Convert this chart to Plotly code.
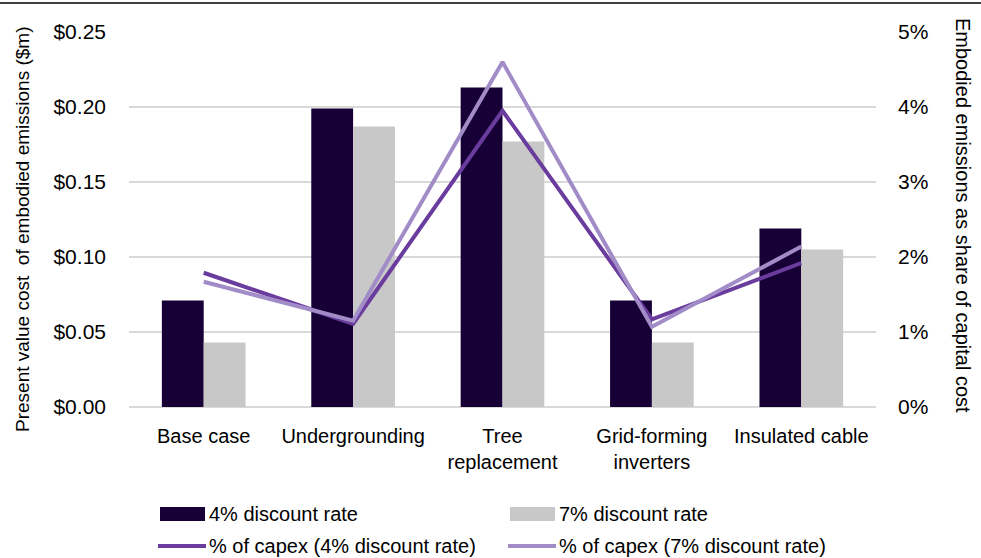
import plotly.graph_objects as go

# Categories and values
categories = ["Base case", "Undergrounding", "Tree<br>replacement",
              "Grid-forming<br>inverters", "Insulated cable"]
pv_cost_4pct = [0.071, 0.199, 0.213, 0.071, 0.119]   # $m
pv_cost_7pct = [0.043, 0.187, 0.177, 0.043, 0.105]   # $m
share_capex_4pct = [1.79, 1.11, 3.95, 1.17, 1.92]    # % of capital cost
share_capex_7pct = [1.67, 1.15, 4.60, 1.07, 2.14]    # % of capital cost

left_ticks = [0, 0.05, 0.10, 0.15, 0.20, 0.25]
left_ticktext = ["$0.00", "$0.05", "$0.10", "$0.15", "$0.20", "$0.25"]
right_ticks = [0, 1, 2, 3, 4, 5]
right_ticktext = ["0%", "1%", "2%", "3%", "4%", "5%"]

legend_names = ["4% discount rate", "7% discount rate",
                "% of capex (4% discount rate)", "% of capex (7% discount rate)"]

C_BAR4 = "#160036"
C_BAR7 = "#C8C8C8"
C_LINE4 = "#6A3C9E"
C_LINE7 = "#A18CC8"
GRID = "#D9D9D9"
FONT = "Liberation Sans"
TXT = "#000000"

W, H = 981, 558
L, R, T, B = 129, 105, 32, 151
pw, ph = W - L - R, H - T - B


def px(x):
    return (x - L) / pw


def py(y):
    return (H - B - y) / ph


fig = go.Figure()
fig.add_trace(go.Bar(x=categories, y=pv_cost_4pct, name=legend_names[0],
                     marker=dict(color=C_BAR4, line=dict(width=0))))
fig.add_trace(go.Bar(x=categories, y=pv_cost_7pct, name=legend_names[1],
                     marker=dict(color=C_BAR7, line=dict(width=0))))
fig.add_trace(go.Scatter(x=categories, y=share_capex_4pct, name=legend_names[2],
                         mode="lines", yaxis="y2",
                         line=dict(color=C_LINE4, width=4)))
fig.add_trace(go.Scatter(x=categories, y=share_capex_7pct, name=legend_names[3],
                         mode="lines", yaxis="y2",
                         line=dict(color=C_LINE7, width=4)))

# Hand-built legend: two columns, two rows
shapes = []
annotations = []
legend_rows = [514, 546]
legend_cols = [158, 508]
kinds = ["bar", "bar", "line", "line"]
colors = [C_BAR4, C_BAR7, C_LINE4, C_LINE7]
for i, name in enumerate(legend_names):
    x0 = legend_cols[i % 2]
    yc = legend_rows[i // 2]
    if kinds[i] == "bar":
        shapes.append(dict(type="rect", xref="paper", yref="paper",
                           x0=px(x0 + 2), x1=px(x0 + 47),
                           y0=py(yc + 7), y1=py(yc - 7),
                           fillcolor=colors[i], line=dict(width=0)))
    else:
        shapes.append(dict(type="line", xref="paper", yref="paper",
                           x0=px(x0), x1=px(x0 + 48), y0=py(yc), y1=py(yc),
                           line=dict(color=colors[i], width=4)))
    annotations.append(dict(text=name, xref="paper", yref="paper",
                            x=px(x0 + 49), y=py(yc), xanchor="left",
                            yanchor="middle", showarrow=False,
                            font=dict(family=FONT, size=20, color=TXT)))

# Thin rule across the top
shapes.append(dict(type="line", xref="paper", yref="paper",
                   x0=px(0), x1=px(W), y0=py(3), y1=py(3),
                   line=dict(color="#000000", width=1.5)))

# Axis titles
annotations.append(dict(text="Present value cost  of embodied emissions ($m)",
                        xref="paper", yref="paper", x=px(22), y=py(229),
                        textangle=-90, showarrow=False,
                        xanchor="center", yanchor="middle",
                        font=dict(family=FONT, size=19, color=TXT)))
annotations.append(dict(text="Embodied emissions as share of capital cost",
                        xref="paper", yref="paper", x=px(963), y=py(216),
                        textangle=90, showarrow=False,
                        xanchor="center", yanchor="middle",
                        font=dict(family=FONT, size=20, color=TXT)))

fig.update_layout(
    width=W, height=H,
    margin=dict(l=L, r=R, t=T, b=B, autoexpand=False),
    paper_bgcolor="white", plot_bgcolor="white",
    barmode="group", bargap=0.44, bargroupgap=0,
    showlegend=False,
    font=dict(family=FONT, size=20, color=TXT),
    xaxis=dict(showgrid=False, showline=False, ticks="",
               tickfont=dict(family=FONT, size=20, color=TXT),
               ticklabelstandoff=15, automargin=False),
    yaxis=dict(range=[0, 0.25], tickvals=left_ticks, ticktext=left_ticktext,
               showgrid=True, gridcolor=GRID, gridwidth=1.5,
               zeroline=True, zerolinecolor=GRID, zerolinewidth=1.5,
               showline=False, ticks="", ticklabelstandoff=22,
               tickfont=dict(family=FONT, size=21, color=TXT),
               automargin=False),
    yaxis2=dict(range=[0, 5], tickvals=right_ticks, ticktext=right_ticktext,
                overlaying="y", side="right", showgrid=False, zeroline=False,
                showline=False, ticks="", ticklabelstandoff=21,
                tickfont=dict(family=FONT, size=21, color=TXT),
                automargin=False),
    shapes=shapes, annotations=annotations,
)

fig.write_html("out.html")
